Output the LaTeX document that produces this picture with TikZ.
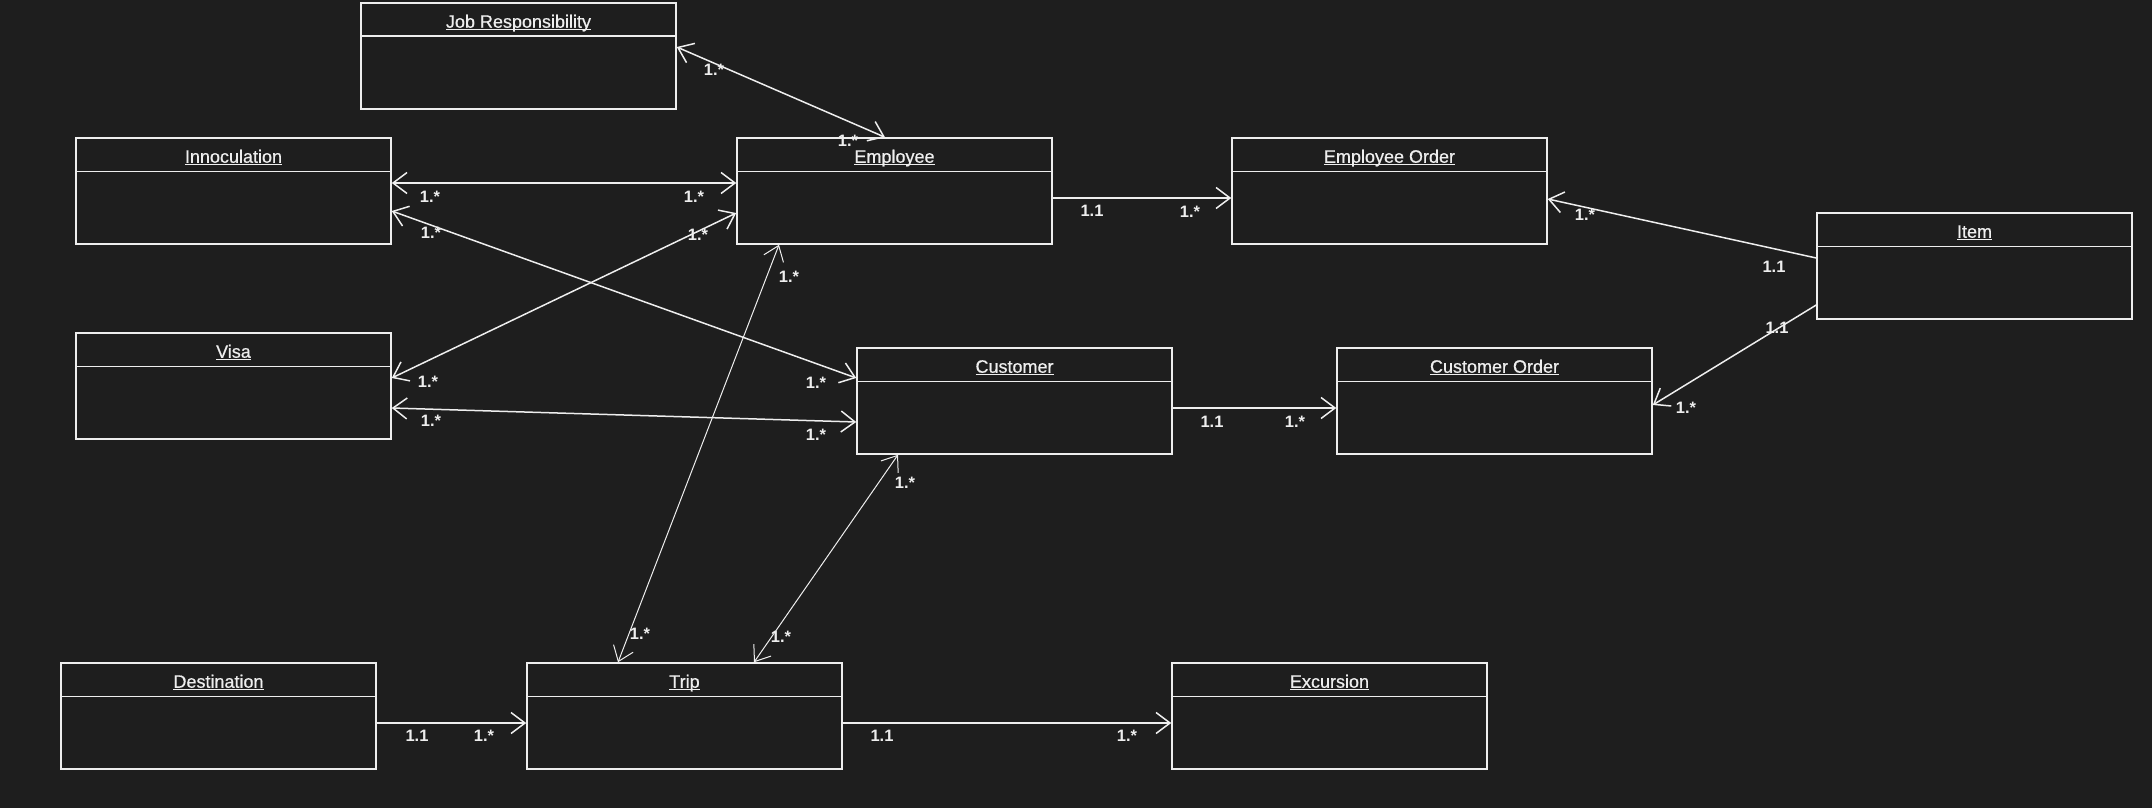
\documentclass[tikz,border=0pt]{standalone}
\usepackage{fontspec}
\setmainfont{Liberation Sans}
\newfontfamily\titlefont{Liberation Sans}[FakeBold=0.6]
\usetikzlibrary{arrows.meta}
\definecolor{bg}{HTML}{1E1E1E}
\definecolor{fg}{HTML}{EEEEEE}
\newcommand\titleul[1]{\setbox0\hbox{#1}\rlap{\rule[-2.5pt]{\wd0}{1.3pt}}\box0}
\tikzset{
  classbox/.style={draw=fg, fill=bg, line width=1.5pt, minimum width=315pt, minimum height=106pt, inner sep=0pt},
  titletext/.style={text=fg, font=\titlefont\fontsize{18}{21}\selectfont, inner sep=0pt},
  lbl/.style={text=fg, font=\fontsize{16.5}{19}\selectfont\bfseries, inner sep=0pt},
  assoc/.style={draw=fg, line width=1.5pt, line join=round, >={Straight Barb[length=14pt,width=21pt]}},
  thinassoc/.style={assoc, line width=1pt},
}
\newcommand\umlclass[3]{%
  \node[classbox] (#1) at (#2) {};
  \draw[fg, line width=1.5pt] ([yshift=-34pt]#1.north west) -- ([yshift=-34pt]#1.north east);
  \node[titletext, anchor=base] (#1-title) at ([yshift=-25.5pt]#1.north) {\titleul{#3}};
}
\begin{document}
\begin{tikzpicture}[x=1pt, y=-1pt]
\useasboundingbox[fill=bg] (0,0) rectangle (2152,808);

\umlclass{jr}{518.5,56}{Job Responsibility}
\umlclass{inn}{233.5,191}{Innoculation}
\umlclass{emp}{894.5,191}{Employee}
\umlclass{eo}{1389.5,191}{Employee Order}
\umlclass{item}{1974.5,266}{Item}
\umlclass{visa}{233.5,386}{Visa}
\umlclass{cust}{1014.5,401}{Customer}
\umlclass{co}{1494.5,401}{Customer Order}
\umlclass{dest}{218.5,716}{Destination}
\umlclass{trip}{684.5,716}{Trip}
\umlclass{exc}{1329.5,716}{Excursion}

% Job Responsibility -- Employee
\draw[assoc,<->] (jr.east |- 0,47) -- (emp.north -| 885,0);
\node[lbl] (l1a) at (714,70) {1.*};
\node[lbl] (l1b) at (848,141) {1.*};

% Innoculation -- Employee
\draw[assoc,<->] (inn.east |- 0,183) -- (emp.west |- 0,183);
\node[lbl] (l2a) at (430,197) {1.*};
\node[lbl] (l2b) at (694,197) {1.*};

% Innoculation -- Customer
\draw[assoc,<->] (inn.east |- 0,211) -- (cust.west |- 0,378);
\node[lbl] (l3a) at (431,233) {1.*};
\node[lbl] (l3b) at (816,383) {1.*};

% Visa -- Employee
\draw[assoc,<->] (visa.east |- 0,378) -- (emp.west |- 0,213);
\node[lbl] (l4a) at (428,382) {1.*};
\node[lbl] (l4b) at (698,235) {1.*};

% Visa -- Customer
\draw[assoc,<->] (visa.east |- 0,408) -- (cust.west |- 0,422);
\node[lbl] (l5a) at (431,421) {1.*};
\node[lbl] (l5b) at (816,435) {1.*};

% Employee -> Employee Order
\draw[assoc,->] (emp.east |- 0,198) -- (eo.west |- 0,198);
\node[lbl] (l6a) at (1092,211) {1.1};
\node[lbl] (l6b) at (1190,212) {1.*};

% Item -> Employee Order
\draw[assoc,->] (item.west |- 0,258) -- (eo.east |- 0,199);
\node[lbl] (l7a) at (1774,267) {1.1};
\node[lbl] (l7b) at (1585,215) {1.*};

% Item -> Customer Order
\draw[assoc,->] (item.west |- 0,305) -- (co.east |- 0,405);
\node[lbl] (l8a) at (1777,328) {1.1};
\node[lbl] (l8b) at (1686,408) {1.*};

% Customer -> Customer Order
\draw[assoc,->] (cust.east |- 0,408) -- (co.west |- 0,408);
\node[lbl] (l9a) at (1212,422) {1.1};
\node[lbl] (l9b) at (1295,422) {1.*};

% Employee -- Trip
\draw[thinassoc,<->] (emp.south -| 779,0) -- (trip.north -| 618,0);
\node[lbl] (l10a) at (789,277) {1.*};
\node[lbl] (l10b) at (640,634) {1.*};

% Customer -- Trip
\draw[thinassoc,<->] (cust.south -| 898,0) -- (trip.north -| 754,0);
\node[lbl] (l11a) at (905,483) {1.*};
\node[lbl] (l11b) at (781,637) {1.*};

% Destination -> Trip
\draw[assoc,->] (dest.east |- 0,723) -- (trip.west |- 0,723);
\node[lbl] (l12a) at (417,736) {1.1};
\node[lbl] (l12b) at (484,736) {1.*};

% Trip -> Excursion
\draw[assoc,->] (trip.east |- 0,723) -- (exc.west |- 0,723);
\node[lbl] (l13a) at (882,736) {1.1};
\node[lbl] (l13b) at (1127,736) {1.*};
\end{tikzpicture}
\end{document}
